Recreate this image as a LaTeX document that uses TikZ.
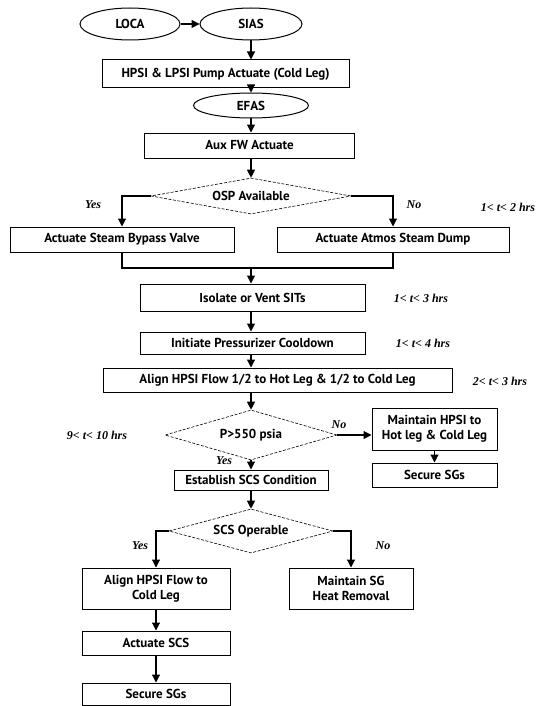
\documentclass[tikz,border=0pt]{standalone}
\usepackage{fontspec}
\setmainfont{Liberation Serif}
\newfontfamily\boxfont{PT Sans}
\usetikzlibrary{shapes.geometric,arrows.meta}
\begin{document}
\begin{tikzpicture}[x=1pt,y=-1pt,
  bx/.style={draw,line width=1pt,rectangle,inner sep=0pt,align=center,font=\boxfont\bfseries\fontsize{13}{15}\selectfont},
  el/.style={draw,line width=1pt,ellipse,inner sep=0pt,font=\boxfont\bfseries\fontsize{13}{15}\selectfont},
  dm/.style={draw,dash pattern=on 3pt off 1.5pt,line width=0.6pt,diamond,inner sep=0pt,shape aspect=5,font=\boxfont\bfseries\fontsize{13}{15}\selectfont},
  lb/.style={inner sep=0pt,font=\bfseries\itshape\fontsize{12}{14}\selectfont},
  ar/.style={-{Triangle[length=8pt,width=8pt]},line width=1.1pt},
  ln/.style={line width=1.1pt}]
\useasboundingbox (0,0) rectangle (546,706);

% nodes
\node[el,minimum width=100pt,minimum height=32pt] (loca) at (130,24) {LOCA};
\node[el,minimum width=102pt,minimum height=32pt] (sias) at (251,24) {SIAS};
\node[bx,minimum width=247pt,minimum height=28pt] (hpsi) at (225.5,74) {HPSI \& LPSI Pump Actuate (Cold Leg)};
\node[el,minimum width=115pt,minimum height=25pt] (efas) at (251,105.5) {EFAS};
\node[bx,minimum width=210pt,minimum height=25pt] (aux) at (249.5,145.5) {Aux FW Actuate};
\node[dm,minimum width=200pt,minimum height=36pt] (osp) at (251,196) {OSP Available};
\node[bx,minimum width=224pt,minimum height=25pt] (byp) at (122,239.5) {Actuate Steam Bypass Valve};
\node[bx,minimum width=232pt,minimum height=25pt] (atm) at (393,239.5) {Actuate Atmos Steam Dump};
\coordinate (j) at (251,268);
\node[bx,minimum width=225pt,minimum height=27pt] (iso) at (252.5,297.5) {Isolate or Vent SITs};
\node[bx,minimum width=225pt,minimum height=22pt] (ini) at (252.5,343) {Initiate Pressurizer Cooldown};
\node[bx,minimum width=349pt,minimum height=24pt] (ali) at (277.5,380) {Align HPSI Flow 1/2 to Hot Leg \& 1/2 to Cold Leg};
\node[dm,minimum width=172pt,minimum height=50pt] (p550) at (251,435) {P>550 psia};
\node[bx,minimum width=154pt,minimum height=20pt] (est) at (251,480) {Establish SCS Condition};
\node[bx,minimum width=125pt,minimum height=42pt] (mhp) at (434.5,429) {Maintain HPSI to\\Hot leg \& Cold Leg};
\node[bx,minimum width=125pt,minimum height=24pt] (sec1) at (434.5,475) {Secure SGs};
\node[dm,minimum width=164pt,minimum height=44pt] (scs) at (251,531) {SCS Operable};
\node[bx,minimum width=148pt,minimum height=41pt] (alc) at (156,588.5) {Align HPSI Flow to\\Cold Leg};
\node[bx,minimum width=124pt,minimum height=41pt] (msg) at (351,588.5) {Maintain SG\\Heat Removal};
\node[bx,minimum width=148pt,minimum height=24pt] (act) at (156,643) {Actuate SCS};
\node[bx,minimum width=148pt,minimum height=22pt] (sec2) at (156,694) {Secure SGs};

% labels
\node[lb] (yes1) at (93,205) {Yes};
\node[lb] (no1) at (414,205) {No};
\node[lb] (t12) at (508,207) {1< t< 2 hrs};
\node[lb] (t13) at (421,298) {1< t< 3 hrs};
\node[lb] (t14) at (423,343) {1< t< 4 hrs};
\node[lb] (t23) at (500,381) {2< t< 3 hrs};
\node[lb] (t910) at (97,435) {9< t< 10 hrs};
\node[lb] (no2) at (339,425) {No};
\node[lb] (yes2) at (224,461) {Yes};
\node[lb] (yes3) at (140,546) {Yes};
\node[lb] (no3) at (383,546) {No};

% connectors
\draw[ar] (loca.east) -- (sias.west);
\draw[ar] (sias.south) -- (sias.south |- hpsi.north);
\draw[ar] (efas.north |- hpsi.south) -- (efas.north);
\draw[ar] (efas.south) -- (efas.south |- aux.north);
\draw[ar] (osp.north |- aux.south) -- (osp.north);
\draw[ar] (osp.west) -| (byp.north);
\draw[ar] (osp.east) -| (atm.north);
\draw[ln] (byp.south) |- (j) -| (atm.south);
\draw[ar] (j) -- (j |- iso.north);
\draw[ar] (j |- iso.south) -- (j |- ini.north);
\draw[ar] (j |- ini.south) -- (j |- ali.north);
\draw[ar] (p550.north |- ali.south) -- (p550.north);
\draw[ar] (p550.east) -- (p550.east -| mhp.west);
\draw[ar] (p550.south) -- (est.north);
\draw[ar] (mhp.south) -- (sec1.north);
\draw[ar] (est.south) -- (scs.north);
\draw[ar] (scs.west) -| (alc.north);
\draw[ar] (scs.east) -| (msg.north);
\draw[ar] (alc.south) -- (act.north);
\draw[ar] (act.south) -- (sec2.north);
\end{tikzpicture}
\end{document}
